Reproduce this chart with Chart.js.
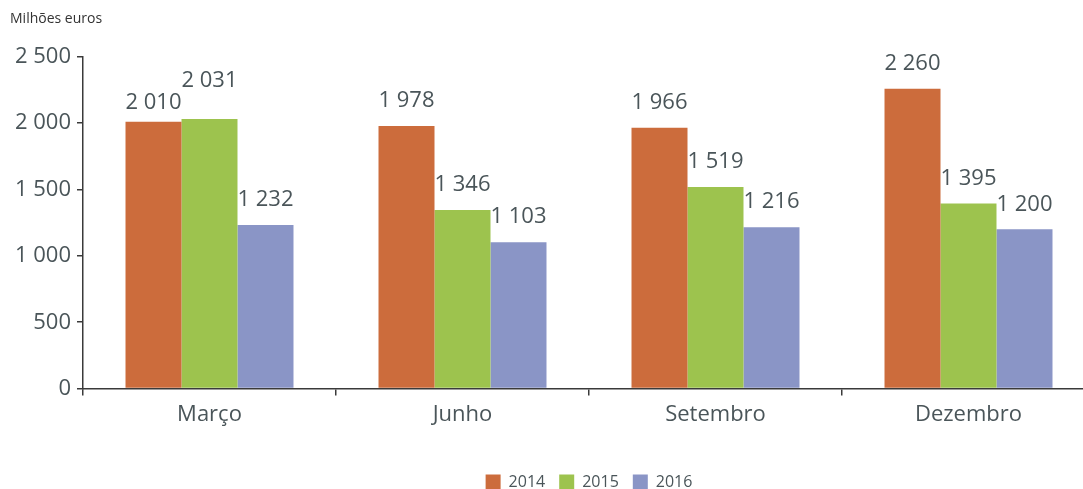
<!DOCTYPE html>
<html lang="pt">
<head>
<meta charset="utf-8">
<title>Milhões euros</title>
<script src="https://cdn.jsdelivr.net/npm/chart.js@4/dist/chart.umd.min.js"></script>
<style>
  html, body { margin: 0; padding: 0; background: #fff; overflow: hidden; }
  #wrap { width: 1095px; height: 500px; position: relative; }
</style>
</head>
<body>
<div id="wrap"><canvas id="chart"></canvas></div>
<script>
"use strict";

const categories = ["Março", "Junho", "Setembro", "Dezembro"];
const years = ["2014", "2015", "2016"];
const values2014 = [2010, 1978, 1966, 2260];
const values2015 = [2031, 1346, 1519, 1395];
const values2016 = [1232, 1103, 1216, 1200];
const yTicks = [0, 500, 1000, 1500, 2000, 2500];

const colors = ["#cc6c3c", "#9dc34e", "#8a95c6"];
const TEXT = "#4a5559";
const AXIS = "#3a3a3a";
const FONT = "'Open Sans', 'Noto Sans', sans-serif";

const fmt = (n) => String(n).replace(/\B(?=(\d{3})+(?!\d))/g, " ");

// small manual nudges so the two Março labels don't collide (dataset-index)
const labelNudge = { "0-0": 6, "1-0": -13 };

const valueLabels = {
  id: "valueLabels",
  afterDatasetsDraw(chart) {
    const ctx = chart.ctx;
    ctx.save();
    ctx.font = "22px " + FONT;
    ctx.fillStyle = TEXT;
    ctx.textAlign = "center";
    ctx.textBaseline = "middle";
    chart.data.datasets.forEach((ds, di) => {
      chart.getDatasetMeta(di).data.forEach((bar, i) => {
        const dy = labelNudge[di + "-" + i] || 0;
        ctx.fillText(fmt(ds.data[i]), bar.x, bar.y - 25 + dy);
      });
    });
    ctx.restore();
  },
};

const seriesValues = [values2014, values2015, values2016];

new Chart(document.getElementById("chart"), {
  type: "bar",
  data: {
    labels: categories,
    datasets: years.map((y, i) => ({
      label: y,
      data: seriesValues[i],
      backgroundColor: colors[i],
      borderWidth: 0,
      categoryPercentage: 0.664,
      barPercentage: 1,
    })),
  },
  options: {
    responsive: true,
    maintainAspectRatio: false,
    animation: false,
    layout: { padding: { left: 10, right: 0, top: 0, bottom: 0 } },
    plugins: {
      tooltip: { enabled: false },
      title: {
        display: true,
        text: "Milhões euros",
        align: "start",
        color: "#333",
        font: { family: FONT, size: 14, weight: "normal" },
        padding: { top: 11, bottom: 29 },
      },
      legend: {
        position: "bottom",
        fullSize: false,
        labels: {
          boxWidth: 15,
          boxHeight: 15,
          padding: 14,
          color: TEXT,
          font: { family: FONT, size: 16 },
        },
      },
    },
    scales: {
      x: {
        afterFit: (scale) => { scale.height += 26; },
        grid: { display: true, offset: true, drawOnChartArea: false, drawTicks: true, tickLength: 7, color: AXIS, lineWidth: 1.5 },
        border: { display: true, color: AXIS, width: 1.5 },
        ticks: { color: TEXT, font: { family: FONT, size: 22 }, padding: 6 },
      },
      y: {
        min: 0,
        max: 2500,
        afterBuildTicks: (scale) => { scale.ticks = yTicks.map((v) => ({ value: v })); },
        afterFit: (scale) => { scale.width = 73; },
        grid: { display: true, drawOnChartArea: false, drawTicks: true, tickLength: 6, color: AXIS, lineWidth: 1.5 },
        border: { display: true, color: AXIS, width: 1.5 },
        ticks: { color: TEXT, font: { family: FONT, size: 22 }, padding: 6, callback: (v) => fmt(v) },
      },
    },
  },
  plugins: [valueLabels],
});
</script>
</body>
</html>
